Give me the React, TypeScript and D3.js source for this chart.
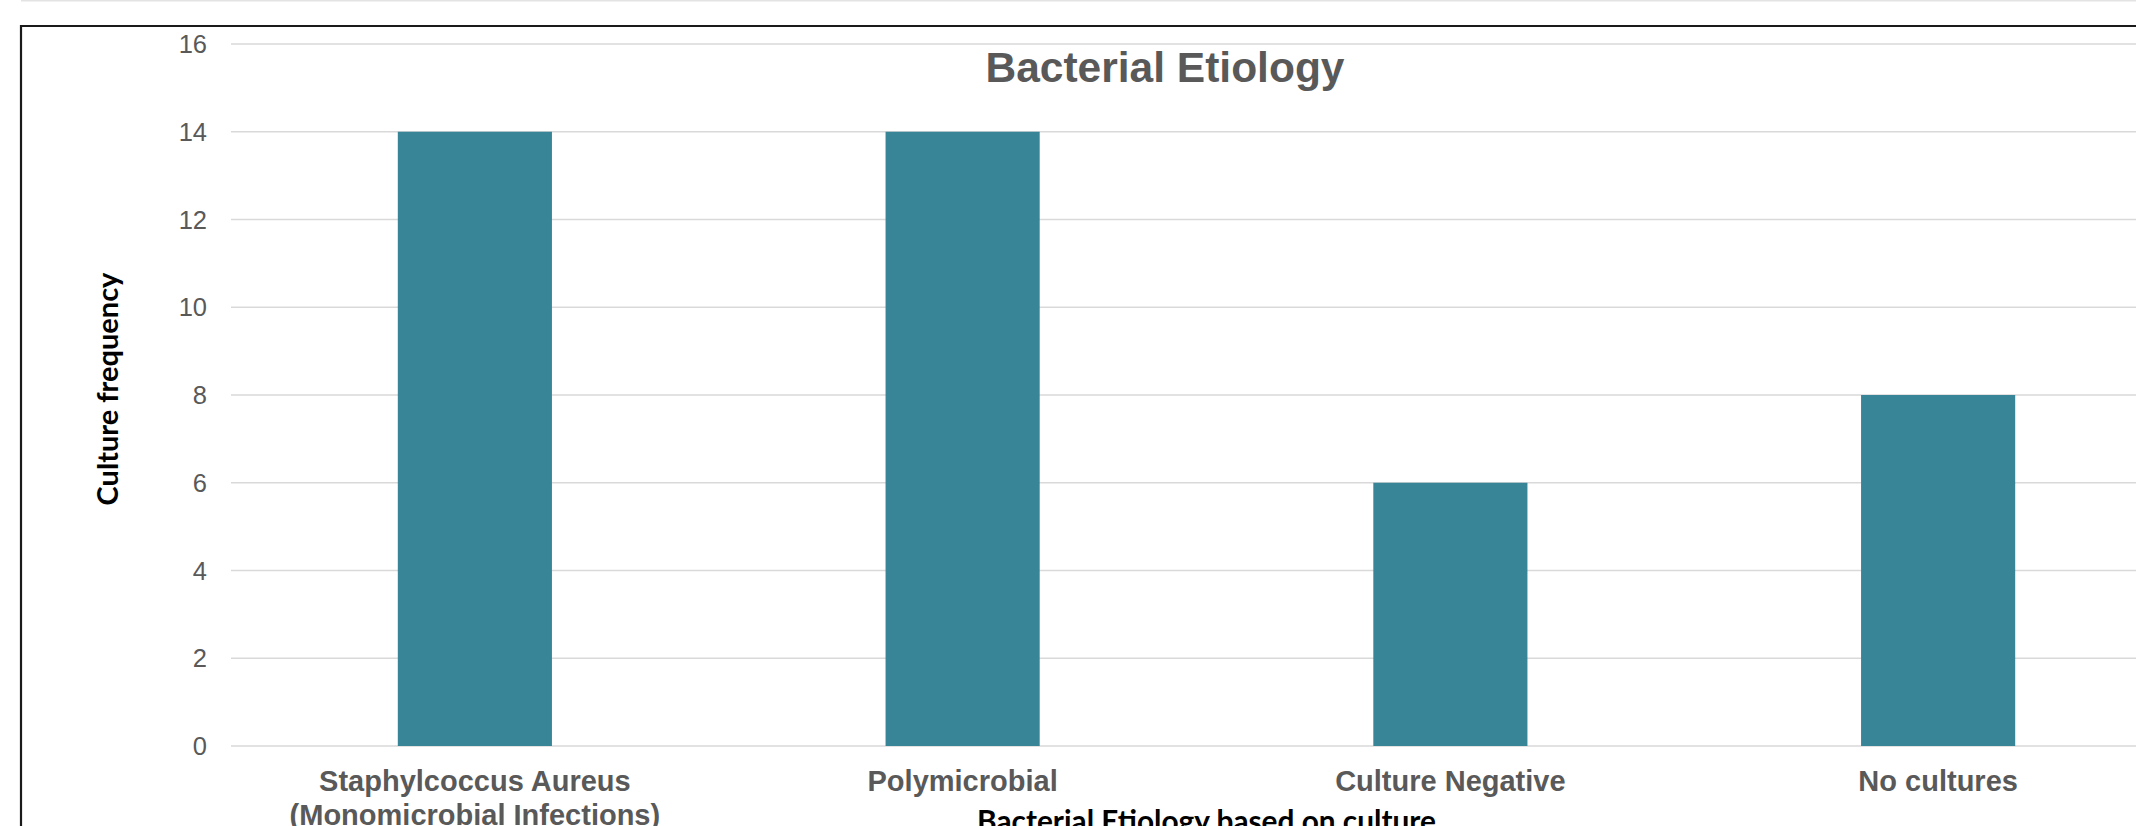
import React from "react";
import * as d3 from "d3";

const categories: string[][] = [
  ["Staphylcoccus Aureus", "(Monomicrobial Infections)"],
  ["Polymicrobial"],
  ["Culture Negative"],
  ["No cultures"],
];
const values: number[] = [14, 14, 6, 8];
const yTicks: number[] = [0, 2, 4, 6, 8, 10, 12, 14, 16];
const chartTitle = "Bacterial Etiology";
const xAxisTitle = "Bacterial Etiology based on culture";
const yAxisTitle = "Culture frequency";

const W = 2136;
const H = 826;

export default function App() {
  const keys = categories.map((c) => c.join(" "));
  const x = d3
    .scaleBand<string>()
    .domain(keys)
    .range([231, 2182])
    .paddingInner(0.684)
    .paddingOuter(0.342);
  const y = d3.scaleLinear().domain([0, 16]).range([746, 44]);
  const gray = "#595959";
  const plotCenter = (231 + 2182) / 2;

  return (
    <svg
      width={W}
      height={H}
      style={{ position: "absolute", left: 0, top: 0, background: "#fff" }}
    >
      <rect x={0} y={0} width={W} height={H} fill="#fff" />
      <line x1={21} x2={W} y1={0.75} y2={0.75} stroke="#e3e3e3" strokeWidth={1.5} />
      {/* chart border */}
      <path d={`M21,${H + 5} L21,26 L${W + 5},26`} fill="none" stroke="#1a1a1a" strokeWidth={2.2} />
      {/* gridlines */}
      {yTicks.map((t) => (
        <line key={t} x1={231} x2={W} y1={y(t)} y2={y(t)} stroke="#d9d9d9" strokeWidth={1.5} />
      ))}
      {/* y tick labels */}
      {yTicks.map((t) => (
        <text
          key={"l" + t}
          x={207}
          y={y(t)}
          dy="0.36em"
          textAnchor="end"
          fontFamily="'Liberation Sans', Arial, sans-serif"
          fontSize={25.5}
          fill={gray}
        >
          {t}
        </text>
      ))}
      {/* bars */}
      {values.map((v, i) => (
        <rect
          key={keys[i]}
          x={x(keys[i])}
          y={y(v)}
          width={x.bandwidth()}
          height={y(0) - y(v)}
          fill="#388598"
        />
      ))}
      {/* x labels */}
      {categories.map((lines, i) => (
        <text
          key={"x" + i}
          x={(x(keys[i]) as number) + x.bandwidth() / 2}
          y={791}
          textAnchor="middle"
          fontFamily="'Liberation Sans', Arial, sans-serif"
          fontWeight="bold"
          fontSize={29}
          fill={gray}
        >
          {lines.map((l, j) => (
            <tspan key={j} x={(x(keys[i]) as number) + x.bandwidth() / 2} dy={j === 0 ? 0 : 34}>
              {l}
            </tspan>
          ))}
        </text>
      ))}
      {/* title */}
      <text
        x={1165}
        y={82}
        textAnchor="middle"
        fontFamily="'Liberation Sans', Arial, sans-serif"
        fontWeight="bold"
        fontSize={42.5}
        fill={gray}
      >
        {chartTitle}
      </text>
      {/* x axis title */}
      <text
        x={plotCenter}
        y={832}
        textAnchor="middle"
        fontFamily="Lato, 'Open Sans', sans-serif"
        fontWeight="bold"
        fontSize={29.8}
        fill="#000"
      >
        {xAxisTitle}
      </text>
      {/* y axis title */}
      <text
        transform={`translate(117.5, 389) rotate(-90)`}
        textAnchor="middle"
        fontFamily="Lato, 'Open Sans', sans-serif"
        fontWeight="bold"
        fontSize={29}
        fill="#000"
      >
        {yAxisTitle}
      </text>
    </svg>
  );
}
